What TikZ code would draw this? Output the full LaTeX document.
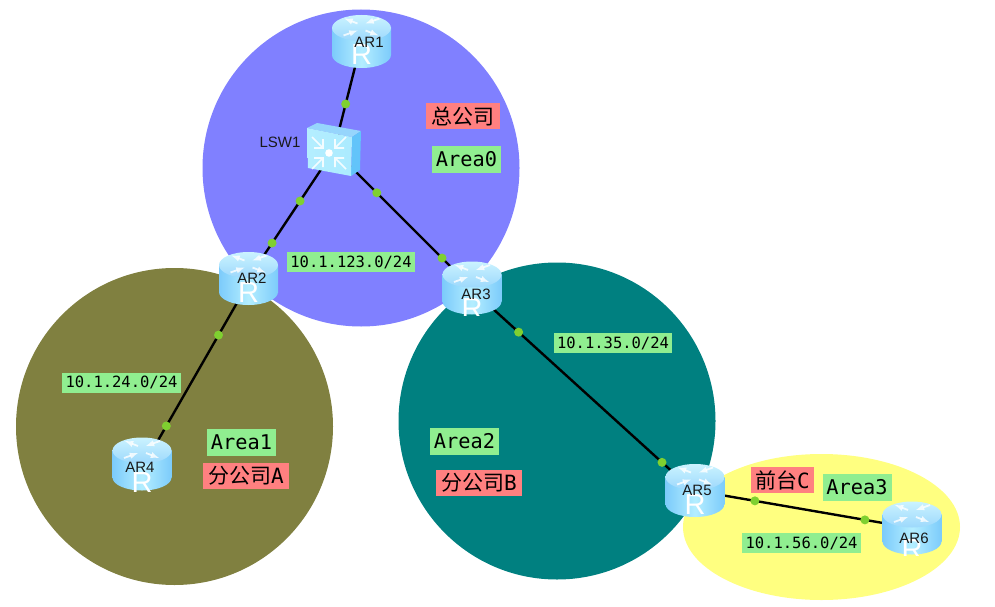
\documentclass[tikz,border=0pt]{standalone}
\usepackage{fontspec}
\setmainfont{Liberation Sans}
\setmonofont{DejaVu Sans Mono}
\newfontfamily\cjkfont{Noto Sans CJK SC}
\usetikzlibrary{%
  arrows,%
  backgrounds%
}
\definecolor{areablue}{HTML}{8080FF}
\definecolor{areaolive}{HTML}{808040}
\definecolor{areateal}{HTML}{008080}
\definecolor{areayellow}{HTML}{FFFF80}
\definecolor{tagred}{HTML}{FF8080}
\definecolor{taggreen}{HTML}{90EE90}
\definecolor{portgreen}{HTML}{7FD030}
\definecolor{bodydark}{HTML}{7CCBFB}
\definecolor{bodylight}{HTML}{B4EEFF}
\definecolor{bodytop}{HTML}{ABEBFF}
\definecolor{switchside}{HTML}{62C4FA}
\tikzset{>=latex}
\newcommand{\routerbody}[1]{%
  \begin{scope}[shift={(path picture bounding box.center)}]
    \shade[left color=bodydark,right color=bodydark,middle color=bodylight]
      (-29.5,-13.5) rectangle (29.5,13.5);
    \shade[left color=bodydark,right color=bodydark,middle color=bodylight]
      (0,13.5) ellipse[x radius=29.5,y radius=13];
    \shade[top color=bodylight!70!white,bottom color=bodydark!75!white]
      (0,-13.5) ellipse[x radius=29.5,y radius=13];
    \draw[white,opacity=.8,line width=1.8pt,<-] (-4,-11) -- (-18,-6);
    \draw[white,opacity=.8,line width=1.8pt,->] (-4,-18) -- (-17,-23);
    \draw[white,opacity=.8,line width=1.8pt,->] (4,-11) -- (17,-6);
    \draw[white,opacity=.8,line width=1.8pt,<-] (4,-18) -- (18,-23);
    \node[white,inner sep=0pt,font=\fontsize{29}{29}\selectfont] at (0,#1) {R};
  \end{scope}%
}
\newcommand{\switchbody}{%
  \begin{scope}[shift={(path picture bounding box.center)},xshift=-2]
    \fill[bodydark!80!white] (-27,-22) -- (-17,-27) -- (27,-19) -- (18,-13) -- cycle;
    \fill[switchside] (18,-13) -- (27,-19) -- (26,20) -- (17,26) -- cycle;
    \shade[left color=bodylight,right color=bodytop]
      (-27,-22) -- (18,-13) -- (17,26) -- (-26,18) -- cycle;
    \fill[white] (-5,3) circle (3.8);
    \foreach \dx/\dy in {-1/-1,1/-1,-1/1,1/1}{
      \draw[white,opacity=.85,line width=1.7pt]
        (-5+17*\dx,3+16*\dy) -- (-5+6*\dx,3+5*\dy)
        (-5+6*\dx,3+14*\dy) -- (-5+6*\dx,3+5*\dy) -- (-5+15*\dx,3+5*\dy);
    }
  \end{scope}%
}
\tikzset{
  router/.style={inner sep=0pt,minimum width=60,minimum height=54,
    path picture={\routerbody{#1}}},
  switchbox/.style={inner sep=0pt,minimum width=60,minimum height=56,
    path picture={\switchbody}},
  devname/.style={text=black!90,font=\fontsize{15}{17}\selectfont},
  link/.style={black,line width=2.4pt},
  portdot/.style={circle,fill=portgreen,inner sep=0pt,minimum size=9},
  nettag/.style={fill=taggreen,inner sep=0pt,minimum width=#1,minimum height=20,
    font=\ttfamily\fontsize{15.5}{18}\selectfont},
  areatag/.style={fill=taggreen,inner sep=0pt,minimum width=69,minimum height=27,
    font=\ttfamily\fontsize{20.3}{24}\selectfont},
  sitetag/.style={fill=tagred,inner sep=0pt,minimum width=#1,minimum height=26,
    font=\cjkfont\fontsize{21}{24}\selectfont}
}

\begin{document}
\begin{tikzpicture}[x=1pt,y=-1pt]
    \useasboundingbox (0,0) rectangle (995,607);

    \node[router=13.5] (ar1) at (361.5,41.5) {};
    \node[router=14.5] (ar2) at (248.5,278.5) {};
    \node[router=21] (ar3) at (472,288) {};
    \node[router=19] (ar4) at (142,464) {};
    \node[router=14.5] (ar5) at (695,490.5) {};
    \node[router=22] (ar6) at (912,528) {};
    \node[switchbox] (lsw1) at (334,150) {};

    \node[devname] (ar1name) at (369,42) {AR1};
    \node[devname] (ar2name) at (252,278) {AR2};
    \node[devname] (ar3name) at (476,294) {AR3};
    \node[devname] (ar4name) at (140,467) {AR4};
    \node[devname] (ar5name) at (697,490) {AR5};
    \node[devname] (ar6name) at (914,538) {AR6};
    \node[devname] (lsw1name) at (280,142) {LSW1};

    \begin{scope}[on background layer]
        \fill[areablue] (361,168) circle (158.5);
        \fill[areaolive] (174.5,426.5) circle (158.5);
        \fill[areateal] (557,421) circle (158.5);
        \fill[areayellow] (821.5,527) ellipse[x radius=138.5,y radius=73];

        \draw[link] (ar1.center) -- (lsw1.center) node[portdot,pos=.576] (p1) {};
        \draw[link] (lsw1.center) -- (ar2.center)
            node[portdot,pos=.397] (p2) {} node[portdot,pos=.724] (p3) {};
        \draw[link] (lsw1.center) -- (ar3.center)
            node[portdot,pos=.31] (p4) {} node[portdot,pos=.783] (p5) {};
        \draw[link] ([xshift=2.5]ar2.center) -- ([xshift=2.5]ar4.center)
            node[portdot,pos=.305] (p6) {} node[portdot,pos=.795] (p7) {};
        \draw[link] ([xshift=-2]ar3.center) -- ([xshift=-2]ar5.center)
            node[portdot,pos=.218] (p8) {} node[portdot,pos=.861] (p9) {};
        \draw[link] (ar5.center) -- (ar6.center)
            node[portdot,pos=.276] (p10) {} node[portdot,pos=.783] (p11) {};
    \end{scope}

    \node[nettag=128] (net123) at (351,262) {10.1.123.0/24};
    \node[nettag=118] (net35) at (613,343) {10.1.35.0/24};
    \node[nettag=119] (net24) at (121.5,382.5) {10.1.24.0/24};
    \node[nettag=119] (net56) at (801.5,543) {10.1.56.0/24};

    \node[areatag] (area0) at (466.5,159.5) {Area0};
    \node[areatag] (area1) at (241.5,442) {Area1};
    \node[areatag] (area2) at (464.5,441) {Area2};
    \node[areatag] (area3) at (857,487) {Area3};

    \node[sitetag=74] (head) at (463,116) {总公司};
    \node[sitetag=86] (brancha) at (246,475.5) {分公司{\ttfamily A}};
    \node[sitetag=86] (branchb) at (479,482.5) {分公司{\ttfamily B}};
    \node[sitetag=63] (desk) at (782.5,480) {前台{\ttfamily C}};
\end{tikzpicture}
\end{document}
